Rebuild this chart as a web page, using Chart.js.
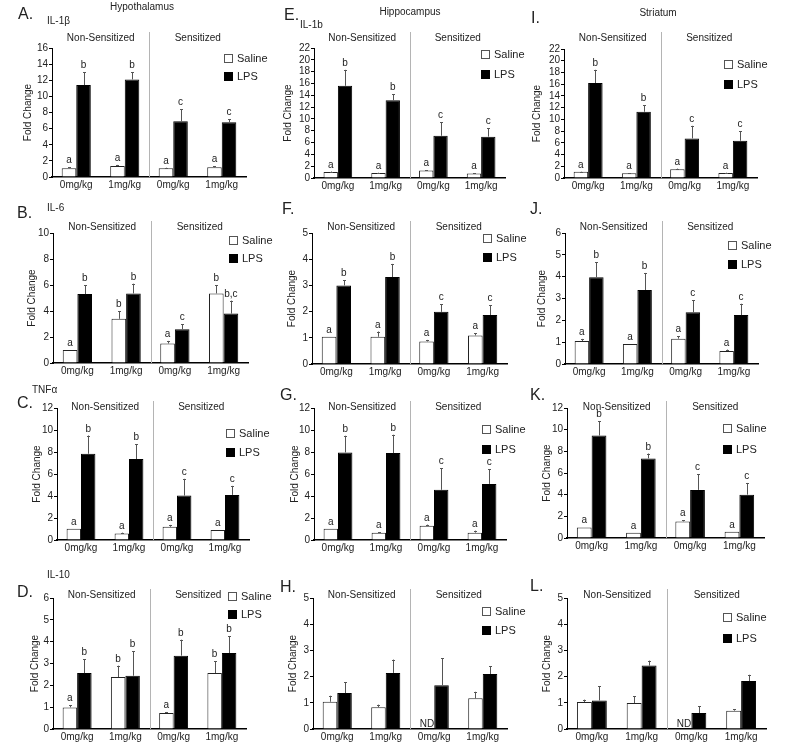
<!DOCTYPE html>
<html>
<head>
<meta charset="utf-8">
<style>
  body { margin: 0; background: #fff; }
  #fig { position: relative; width: 800px; height: 749px; overflow: hidden; font-family: "Liberation Sans", Arial, sans-serif; color: #222; }
  #fig canvas { position: absolute; }
  .t { position: absolute; white-space: nowrap; line-height: 1; transform: translateY(-50%); }
  .c { transform: translate(-50%, -50%); }
</style>
<script src="https://cdn.jsdelivr.net/npm/chart.js"></script>
</head>
<body>
<div id="fig"></div>
<script>
const doses = ['0mg/kg', '1mg/kg', '0mg/kg', '1mg/kg'];
const groups = ['Non-Sensitized', 'Sensitized'];
const seriesNames = ['Saline', 'LPS'];

// letters shared by most panels
const lettersSalineA = ['a', 'a', 'a', 'a'];
const lettersLpsBC = ['b', 'b', 'c', 'c'];

// Hypothalamus
const hypoIl1bSaline = [1.1, 1.35, 1.1, 1.2];
const hypoIl1bSalineSem = [0.1, 0.15, 0.05, 0.15];
const hypoIl1bLps = [11.4, 12.1, 6.9, 6.8];
const hypoIl1bLpsSem = [1.6, 0.9, 1.5, 0.35];

const hypoIl6Saline = [1.0, 3.4, 1.5, 5.35];
const hypoIl6SalineSem = [0, 0.6, 0.2, 0.65];
const hypoIl6Lps = [5.3, 5.35, 2.6, 3.8];
const hypoIl6LpsSem = [0.7, 0.75, 0.4, 1.0];
const hypoIl6SalineLetters = ['a', 'b', 'a', 'b'];
const hypoIl6LpsLetters = ['b', 'b', 'c', 'b,c'];

const hypoTnfSaline = [1.03, 0.58, 1.2, 0.9];
const hypoTnfSalineSem = [0, 0.09, 0.17, 0];
const hypoTnfLps = [7.84, 7.36, 4.04, 4.1];
const hypoTnfLpsSem = [1.66, 1.36, 1.52, 0.82];

const hypoIl10Saline = [0.99, 2.38, 0.73, 2.56];
const hypoIl10SalineSem = [0.09, 0.52, 0.05, 0.54];
const hypoIl10Lps = [2.56, 2.44, 3.36, 3.48];
const hypoIl10LpsSem = [0.64, 1.12, 0.73, 0.76];
const hypoIl10SalineLetters = ['a', 'b', 'a', 'b'];
const hypoIl10LpsLetters = ['b', 'b', 'b', 'b'];

// Hippocampus
const hippIl1bSaline = [1.0, 0.85, 1.25, 0.75];
const hippIl1bSalineSem = [0.1, 0.05, 0.1, 0.05];
const hippIl1bLps = [15.6, 13.15, 7.15, 7.0];
const hippIl1bLpsSem = [2.7, 1.05, 2.25, 1.4];

const hippIl6Saline = [1.04, 1.04, 0.86, 1.09];
const hippIl6SalineSem = [0, 0.2, 0.06, 0.09];
const hippIl6Lps = [3.0, 3.32, 1.99, 1.87];
const hippIl6LpsSem = [0.2, 0.5, 0.3, 0.38];

const hippTnfSaline = [1.03, 0.67, 1.3, 0.67];
const hippTnfSalineSem = [0, 0.05, 0.1, 0.18];
const hippTnfLps = [7.96, 7.9, 4.56, 5.1];
const hippTnfLpsSem = [1.52, 1.67, 1.97, 1.34];

const hippIl10Saline = [1.04, 0.83, null, 1.17];
const hippIl10SalineSem = [0.23, 0.1, 0, 0.25];
const hippIl10Lps = [1.37, 2.14, 1.67, 2.1];
const hippIl10LpsSem = [0.41, 0.51, 1.03, 0.3];

// Striatum
const striIl1bSaline = [1.05, 0.8, 1.5, 0.85];
const striIl1bSalineSem = [0.05, 0.05, 0.1, 0.05];
const striIl1bLps = [16.2, 11.3, 6.75, 6.35];
const striIl1bLpsSem = [2.25, 1.1, 2.15, 1.65];

const striIl6Saline = [1.05, 0.92, 1.16, 0.6];
const striIl6SalineSem = [0.1, 0, 0.1, 0.06];
const striIl6Lps = [3.97, 3.39, 2.37, 2.24];
const striIl6LpsSem = [0.7, 0.78, 0.55, 0.52];

const striTnfSaline = [0.98, 0.49, 1.53, 0.58];
const striTnfSalineSem = [0, 0, 0.12, 0];
const striTnfLps = [9.46, 7.35, 4.44, 4.0];
const striTnfLpsSem = [1.31, 0.45, 1.46, 1.08];

const striIl10Saline = [1.03, 0.99, null, 0.7];
const striIl10SalineSem = [0.09, 0.26, 0, 0.06];
const striIl10Lps = [1.09, 2.42, 0.61, 1.83];
const striIl10LpsSem = [0.54, 0.19, 0.26, 0.24];

const FONT = '"Liberation Sans", Arial, sans-serif';
const fig = document.getElementById('fig');

// canvas regions on the page
const colX = [0, 262, 520], colW = [275, 273, 280];
const rowY = [0, 185, 365, 550], rowH = [200, 200, 200, 199];
const YW_PAD = 10, XH = 16;

const panels = [
  { col: 0, row: 0, L: 52, R: 246, T: 48, B: 177, max: 16, step: 2, titleX: 28, headY: 38, leg: [224, 54, 18],
    saline: hypoIl1bSaline, salineSem: hypoIl1bSalineSem, lps: hypoIl1bLps, lpsSem: hypoIl1bLpsSem,
    salineLetters: lettersSalineA, lpsLetters: lettersLpsBC },
  { col: 1, row: 0, L: 314, R: 505, T: 48, B: 178, max: 22, step: 2, titleX: 288, headY: 38, leg: [481, 50, 20],
    saline: hippIl1bSaline, salineSem: hippIl1bSalineSem, lps: hippIl1bLps, lpsSem: hippIl1bLpsSem,
    salineLetters: lettersSalineA, lpsLetters: lettersLpsBC },
  { col: 2, row: 0, L: 564, R: 757, T: 49, B: 178, max: 22, step: 2, titleX: 537, headY: 38, leg: [724, 60, 20],
    saline: striIl1bSaline, salineSem: striIl1bSalineSem, lps: striIl1bLps, lpsSem: striIl1bLpsSem,
    salineLetters: lettersSalineA, lpsLetters: lettersLpsBC },
  { col: 0, row: 1, L: 53, R: 248, T: 233, B: 363, max: 10, step: 2, titleX: 32, headY: 227, leg: [229, 236, 18],
    saline: hypoIl6Saline, salineSem: hypoIl6SalineSem, lps: hypoIl6Lps, lpsSem: hypoIl6LpsSem,
    salineLetters: hypoIl6SalineLetters, lpsLetters: hypoIl6LpsLetters },
  { col: 1, row: 1, L: 312, R: 507, T: 233, B: 364, max: 5, step: 1, titleX: 292, headY: 227, leg: [483, 234, 19],
    saline: hippIl6Saline, salineSem: hippIl6SalineSem, lps: hippIl6Lps, lpsSem: hippIl6LpsSem,
    salineLetters: lettersSalineA, lpsLetters: lettersLpsBC },
  { col: 2, row: 1, L: 565, R: 758, T: 233, B: 364, max: 6, step: 1, titleX: 542, headY: 227, leg: [728, 241, 19],
    saline: striIl6Saline, salineSem: striIl6SalineSem, lps: striIl6Lps, lpsSem: striIl6LpsSem,
    salineLetters: lettersSalineA, lpsLetters: lettersLpsBC },
  { col: 0, row: 2, L: 57, R: 249, T: 408, B: 540, max: 12, step: 2, titleX: 37, headY: 407, leg: [226, 429, 19],
    saline: hypoTnfSaline, salineSem: hypoTnfSalineSem, lps: hypoTnfLps, lpsSem: hypoTnfLpsSem,
    salineLetters: lettersSalineA, lpsLetters: lettersLpsBC },
  { col: 1, row: 2, L: 314, R: 506, T: 408, B: 540, max: 12, step: 2, titleX: 295, headY: 407, leg: [482, 425, 20],
    saline: hippTnfSaline, salineSem: hippTnfSalineSem, lps: hippTnfLps, lpsSem: hippTnfLpsSem,
    salineLetters: lettersSalineA, lpsLetters: lettersLpsBC },
  { col: 2, row: 2, L: 567, R: 764, T: 408, B: 538, max: 12, step: 2, titleX: 547, headY: 407, leg: [723, 424, 21],
    saline: striTnfSaline, salineSem: striTnfSalineSem, lps: striTnfLps, lpsSem: striTnfLpsSem,
    salineLetters: lettersSalineA, lpsLetters: lettersLpsBC },
  { col: 0, row: 3, L: 53, R: 246, T: 598, B: 729, max: 6, step: 1, titleX: 35, headY: 595, leg: [228, 592, 18],
    saline: hypoIl10Saline, salineSem: hypoIl10SalineSem, lps: hypoIl10Lps, lpsSem: hypoIl10LpsSem,
    salineLetters: hypoIl10SalineLetters, lpsLetters: hypoIl10LpsLetters },
  { col: 1, row: 3, L: 313, R: 507, T: 598, B: 729, max: 5, step: 1, titleX: 293, headY: 595, leg: [482, 607, 19],
    saline: hippIl10Saline, salineSem: hippIl10SalineSem, lps: hippIl10Lps, lpsSem: hippIl10LpsSem,
    salineLetters: null, lpsLetters: null },
  { col: 2, row: 3, L: 567, R: 766, T: 598, B: 729, max: 5, step: 1, titleX: 547, headY: 595, leg: [723, 613, 21],
    saline: striIl10Saline, salineSem: striIl10SalineSem, lps: striIl10Lps, lpsSem: striIl10LpsSem,
    salineLetters: null, lpsLetters: null }
];

// error bars, letters, divider, group headings, legend
const decor = {
  id: 'decor',
  beforeDatasetsDraw(chart, args, opts) {
    const { ctx, chartArea: a } = chart;
    const mid = Math.round((a.left + a.right) / 2) + 0.5;
    ctx.save();
    ctx.strokeStyle = '#b4b4b4';
    ctx.lineWidth = 1;
    ctx.beginPath();
    ctx.moveTo(mid, opts.headY - 6);
    ctx.lineTo(mid, a.bottom);
    ctx.stroke();
    ctx.fillStyle = '#222';
    ctx.font = '10px ' + FONT;
    ctx.textAlign = 'center';
    ctx.textBaseline = 'middle';
    ctx.fillText(groups[0], (a.left + mid) / 2, opts.headY);
    ctx.fillText(groups[1], (mid + a.right) / 2, opts.headY);
    ctx.restore();
  },
  afterDatasetsDraw(chart, args, opts) {
    const ctx = chart.ctx, ys = chart.scales.y;
    const lpsMeta = chart.getDatasetMeta(1);
    ctx.save();
    ctx.font = '10px ' + FONT;
    ctx.textAlign = 'center';
    chart.data.datasets.forEach((ds, i) => {
      ds.data.forEach((v, j) => {
        const lb = lpsMeta.data[j];
        const x = i === 1 ? lb.x : lb.x - lb.width;
        if (v == null) {
          ctx.fillStyle = '#222';
          ctx.textBaseline = 'alphabetic';
          ctx.fillText('ND', x, ys.getPixelForValue(0) - 2);
          return;
        }
        const sem = ds.sem[j] || 0;
        const yBar = ys.getPixelForValue(v);
        const yTop = ys.getPixelForValue(v + sem);
        if (sem > 0) {
          ctx.strokeStyle = '#555';
          ctx.lineWidth = 1;
          ctx.beginPath();
          ctx.moveTo(Math.round(x) + 0.5, yBar);
          ctx.lineTo(Math.round(x) + 0.5, yTop);
          ctx.moveTo(Math.round(x) - 1, Math.round(yTop) + 0.5);
          ctx.lineTo(Math.round(x) + 2, Math.round(yTop) + 0.5);
          ctx.stroke();
        }
        if (ds.letters) {
          ctx.fillStyle = '#222';
          ctx.textBaseline = 'alphabetic';
          ctx.fillText(ds.letters[j], x, yTop - 4);
        }
      });
    });
    // legend
    const [lx, ly, gap] = opts.leg;
    ctx.textAlign = 'left';
    ctx.textBaseline = 'middle';
    ctx.font = '11px ' + FONT;
    seriesNames.forEach((name, k) => {
      const bx = lx + 0.5, by = ly + k * gap + 0.5;
      ctx.fillStyle = k === 0 ? '#fff' : '#000';
      ctx.fillRect(bx, by, 8, 8);
      ctx.strokeStyle = k === 0 ? '#555' : '#000';
      ctx.lineWidth = 1;
      ctx.strokeRect(bx, by, 8, 8);
      ctx.fillStyle = '#222';
      ctx.fillText(name, lx + 13, ly + k * gap + 4.5);
    });
    ctx.restore();
  }
};

panels.forEach(p => {
  const x0 = colX[p.col], y0 = rowY[p.row], w = colW[p.col], h = rowH[p.row];
  const yw = p.L - p.titleX + YW_PAD;
  const cv = document.createElement('canvas');
  cv.width = w; cv.height = h;
  cv.style.left = x0 + 'px'; cv.style.top = y0 + 'px';
  cv.style.width = w + 'px'; cv.style.height = h + 'px';
  fig.appendChild(cv);

  new Chart(cv.getContext('2d'), {
    type: 'bar',
    data: {
      labels: doses,
      datasets: [
        { label: seriesNames[0], data: p.saline, sem: p.salineSem, letters: p.salineLetters,
          backgroundColor: '#fff', borderColor: '#222', borderWidth: 1 },
        { label: seriesNames[1], data: p.lps, sem: p.lpsSem, letters: p.lpsLetters,
          backgroundColor: '#000', borderColor: '#000', borderWidth: 1 }
      ]
    },
    options: {
      responsive: false,
      animation: false,
      devicePixelRatio: 1,
      categoryPercentage: 0.6,
      barPercentage: 1.0,
      layout: {
        padding: { left: p.L - x0 - yw, right: x0 + w - p.R, top: p.T - y0, bottom: y0 + h - p.B - XH }
      },
      scales: {
        x: {
          grid: { display: false, drawTicks: false },
          border: { display: true, color: '#000', width: 1.5 },
          ticks: { color: '#222', font: { size: 10, family: FONT }, padding: 2, maxRotation: 0 },
          afterFit: s => { s.height = XH; }
        },
        y: {
          min: 0, max: p.max,
          ticks: { stepSize: p.step, autoSkip: false, color: '#222', font: { size: 10, family: FONT }, padding: 1 },
          grid: { drawOnChartArea: false, drawTicks: true, tickLength: 3, color: '#000' },
          border: { display: true, color: '#000', width: 1 },
          title: { display: true, text: 'Fold Change', color: '#222', font: { size: 10, family: FONT }, padding: { top: 4, bottom: 0 } },
          afterFit: s => { s.width = yw; }
        }
      },
      plugins: {
        legend: { display: false },
        tooltip: { enabled: false },
        decor: { headY: p.headY - y0, leg: [p.leg[0] - x0, p.leg[1] - y0, p.leg[2]] }
      }
    },
    plugins: [decor]
  });
});

// panel letters, cytokine names, region titles
const labels = [
  ['Hypothalamus', 142, 7, 10, true], ['Hippocampus', 410, 12, 10, true], ['Striatum', 658, 13, 10, true],
  ['A.', 18, 14, 16], ['IL-1\u03b2', 47, 21, 10],
  ['E.', 284, 15, 16], ['IL-1b', 300, 25, 10],
  ['I.', 531, 18, 16],
  ['B.', 17, 213, 16], ['IL-6', 47, 208, 10],
  ['F.', 282, 209, 16],
  ['J.', 530, 209, 16],
  ['C.', 17, 403, 16], ['TNF\u03b1', 32, 390, 10],
  ['G.', 280, 395, 16],
  ['K.', 530, 395, 16],
  ['D.', 17, 592, 16], ['IL-10', 47, 575, 10],
  ['H.', 280, 587, 16],
  ['L.', 530, 586, 16]
];
labels.forEach(([text, x, y, size, centered]) => {
  const d = document.createElement('div');
  d.className = centered ? 't c' : 't';
  d.style.left = x + 'px';
  d.style.top = y + 'px';
  d.style.fontSize = size + 'px';
  d.textContent = text;
  fig.appendChild(d);
});
</script>
</body>
</html>
